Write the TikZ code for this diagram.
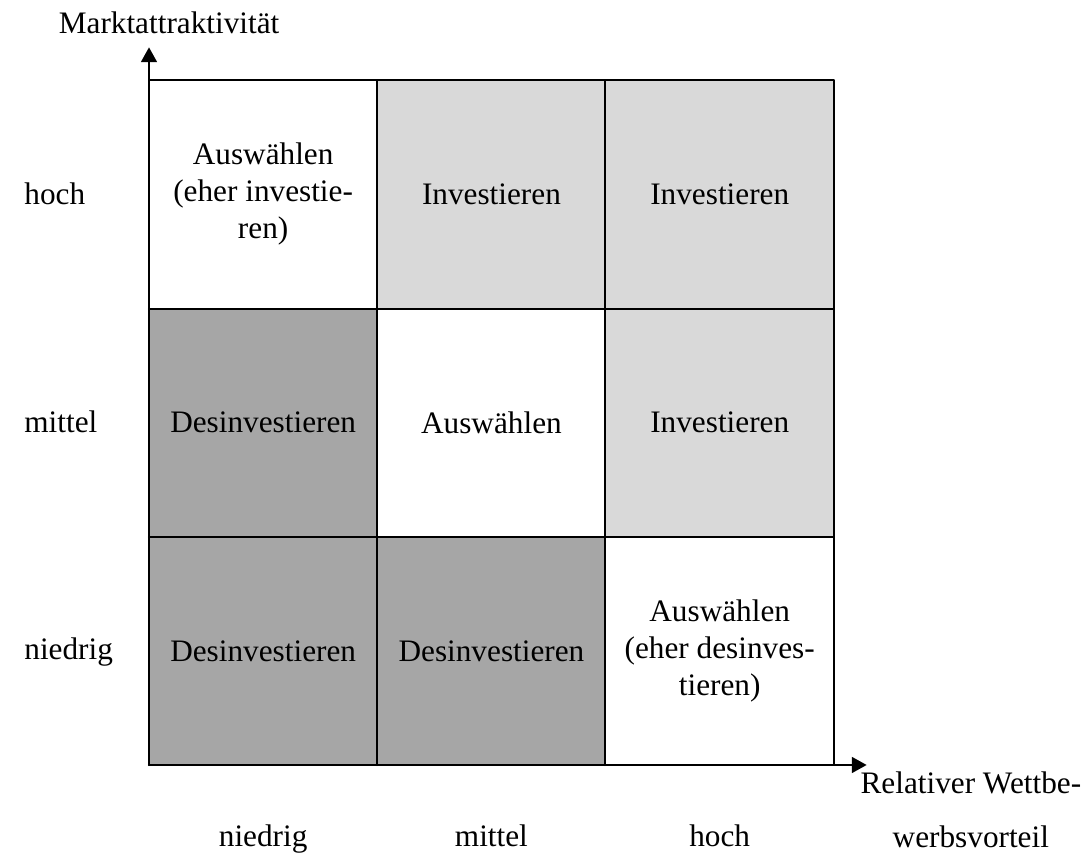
\documentclass[tikz,border=0pt]{standalone}
\usepackage{fontspec}
\setmainfont{Liberation Serif}
\usepackage{tkz-euclide}
\usetikzlibrary{arrows.meta}
\definecolor{lightcell}{HTML}{D9D9D9}
\definecolor{darkcell}{HTML}{A6A6A6}

\begin{document}
\begin{tikzpicture}[scale=3.08,
    font=\fontsize{12pt}{14.2pt}\selectfont,
    grid/.style={line width=0.8pt},
    axis/.style={line width=0.8pt,-{Triangle[length=5.7pt,width=6.1pt]}},
    cell/.style={align=center,inner sep=0pt},
    lbl/.style={anchor=base west,inner sep=0pt},
    tick/.style={anchor=base,inner sep=0pt}]
    \useasboundingbox (-0.6527,-0.394) rectangle (4.122,3.351);
    \foreach \i in {0,...,3}{\foreach \j in {0,...,3}{\tkzDefPoint(\i,\j){P\i\j}}}
    \tkzDefPoints{0/3.145/Y, 3.145/0/X}
    % Felder
    \tkzFillPolygon[color=lightcell](P12,P22,P23,P13)
    \tkzFillPolygon[color=lightcell](P22,P32,P33,P23)
    \tkzFillPolygon[color=lightcell](P21,P31,P32,P22)
    \tkzFillPolygon[color=darkcell](P01,P11,P12,P02)
    \tkzFillPolygon[color=darkcell](P00,P10,P11,P01)
    \tkzFillPolygon[color=darkcell](P10,P20,P21,P11)
    \tkzDrawPolygon[grid](P00,P30,P33,P03)
    \tkzDrawSegments[grid](P10,P13 P20,P23 P01,P31 P02,P32)
    \tkzDrawSegment[axis](P00,Y)
    \tkzDrawSegment[axis](P00,X)
    % Texte
    \node[cell] (c13) at (0.5,2.5) {Auswählen\\(eher investie-\\ren)};
    \node[cell] (c23) at (1.5,2.5) {Investieren};
    \node[cell] (c33) at (2.5,2.5) {Investieren};
    \node[cell] (c12) at (0.5,1.5) {Desinvestieren};
    \node[cell] (c22) at (1.5,1.5) {Auswählen};
    \node[cell] (c32) at (2.5,1.5) {Investieren};
    \node[cell] (c11) at (0.5,0.5) {Desinvestieren};
    \node[cell] (c21) at (1.5,0.5) {Desinvestieren};
    \node[cell] (c31) at (2.5,0.5) {Auswählen\\(eher desinves-\\tieren)};
    \node[lbl] (yhoch) at (-0.548,2.455) {hoch};
    \node[lbl] (ymittel) at (-0.548,1.455) {mittel};
    \node[lbl] (yniedrig) at (-0.548,0.46) {niedrig};
    \node[tick] (xniedrig) at (0.5,-0.359) {niedrig};
    \node[tick] (xmittel) at (1.5,-0.359) {mittel};
    \node[tick] (xhoch) at (2.5,-0.359) {hoch};
    \node[tick] (ylab) at (0.088,3.206) {Marktattraktivität};
    \node[cell,anchor=north] (xlab) at (3.6,-0.029) {Relativer Wettbe-\\[6.5pt]werbsvorteil};
\end{tikzpicture}
\end{document}
